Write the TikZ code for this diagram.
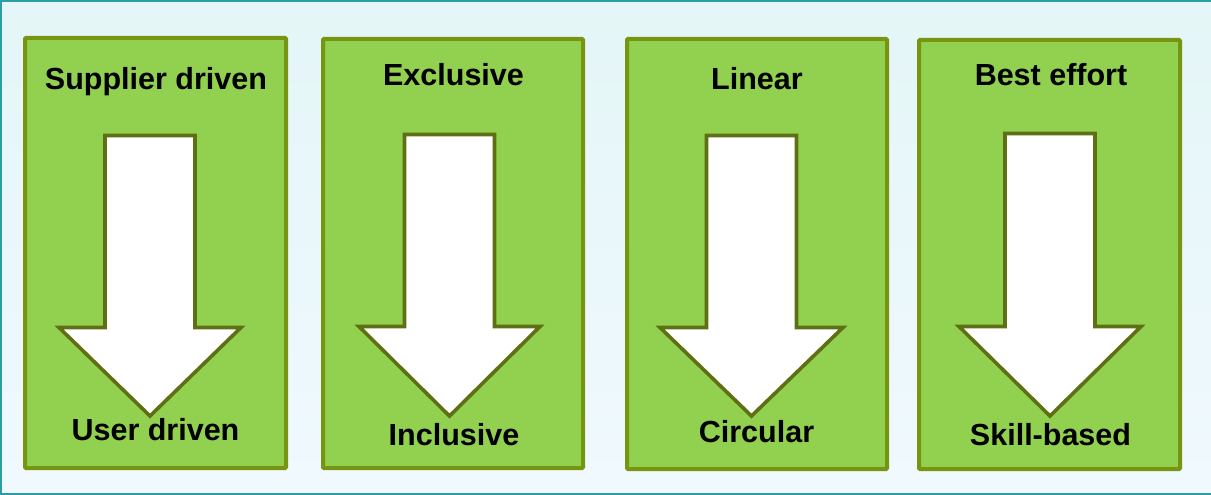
\documentclass[tikz,border=0pt]{standalone}
\usepackage{fontspec}
\setmainfont{Liberation Sans}
\definecolor{bgtop}{HTML}{E4F6F7}
\definecolor{bgbot}{HTML}{F0F9FE}
\definecolor{frameline}{HTML}{2A9DA6}
\definecolor{panelfill}{HTML}{92D050}
\definecolor{panelline}{HTML}{789512}
\definecolor{arrowline}{HTML}{5E7013}
\begin{document}
\begin{tikzpicture}[x=1pt,y=-1pt,
  panel/.style={draw=panelline, line width=4pt, fill=panelfill, inner sep=0pt, rectangle, rounded corners=1pt},
  arrowshape/.style={draw=arrowline, line width=3.6pt, fill=white, line join=miter},
  lbl/.style={font=\bfseries\fontsize{30.5}{36}\selectfont, anchor=base, inner sep=0pt, text=black}]
\useasboundingbox (0,0) rectangle (1211,495);
\shade[top color=bgtop, bottom color=bgbot] (0,0) rectangle (1211,495);
\draw[frameline, line width=2pt] (1,1) rectangle (1216,494);

% panels
\node[panel, minimum width=261pt, minimum height=430pt] (p1) at (155.5,253) {};
\node[panel, minimum width=260pt, minimum height=429pt] (p2) at (453,253.5) {};
\node[panel, minimum width=260pt, minimum height=430pt] (p3) at (757,254) {};
\node[panel, minimum width=261pt, minimum height=429pt] (p4) at (1049.5,254.5) {};

% arrows
\draw[arrowshape] (105,135.5) -- (195,135.5) -- (195,327.5) -- (241,327.5) -- (150,416) -- (59,327.5) -- (105,327.5) -- cycle;
\draw[arrowshape] (404.5,134.5) -- (494.5,134.5) -- (494.5,326.5) -- (540,326.5) -- (449.5,416) -- (359,326.5) -- (404.5,326.5) -- cycle;
\draw[arrowshape] (706.5,135.5) -- (796.5,135.5) -- (796.5,327.5) -- (843,327.5) -- (751.5,416) -- (660,327.5) -- (706.5,327.5) -- cycle;
\draw[arrowshape] (1005,133.5) -- (1095,133.5) -- (1095,326.5) -- (1141,326.5) -- (1050,416) -- (959,326.5) -- (1005,326.5) -- cycle;

% labels
\node[lbl] (t1) at (156,89) {Supplier driven};
\node[lbl] (t2) at (453.5,85) {Exclusive};
\node[lbl] (t3) at (757,89) {Linear};
\node[lbl] (t4) at (1051,85) {Best effort};
\node[lbl] (b1) at (155.5,440) {User driven};
\node[lbl] (b2) at (454,445) {Inclusive};
\node[lbl] (b3) at (756.5,442) {Circular};
\node[lbl] (b4) at (1050.5,445) {Skill-based};
\end{tikzpicture}
\end{document}
